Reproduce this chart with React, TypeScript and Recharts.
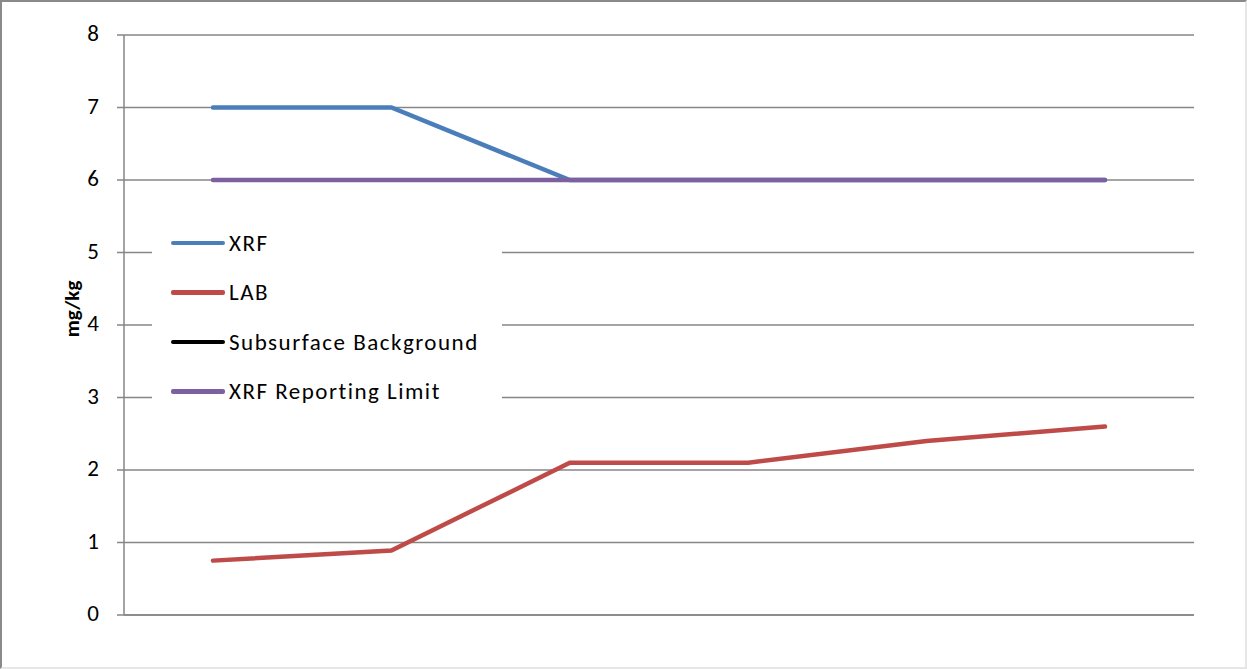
import React from "react";
import {
  LineChart,
  Line,
  XAxis,
  YAxis,
  CartesianGrid,
} from "recharts";

// six sample locations, no labels shown on the category axis
const samples = ["1", "2", "3", "4", "5", "6"];
const xrf = [7, 7, 6, 6, 6, 6];
const lab = [0.75, 0.89, 2.1, 2.1, 2.4, 2.6];
const subsurfaceBackground: (number | null)[] = [null, null, null, null, null, null];
const reportingLimit = [6, 6, 6, 6, 6, 6];
const yTicks = [0, 1, 2, 3, 4, 5, 6, 7, 8];

const series = [
  { key: "xrf", name: "XRF", color: "#4A7EBB" },
  { key: "lab", name: "LAB", color: "#BE4B48" },
  { key: "bg", name: "Subsurface Background", color: "#000000" },
  { key: "rl", name: "XRF Reporting Limit", color: "#7D60A0" },
];

const data = samples.map((s, i) => ({
  sample: s,
  xrf: xrf[i],
  lab: lab[i],
  bg: subsurfaceBackground[i],
  rl: reportingLimit[i],
}));

const FONT = "Carlito, Lato, 'Open Sans', sans-serif";

// legend sits inside the plot area, on a white box over the gridlines
const LegendBox = () => (
  <div
    style={{
      position: "absolute",
      left: 152,
      top: 214,
      background: "#fff",
      width: 350,
      padding: "4px 0",
      fontFamily: FONT,
      fontSize: 23,
      letterSpacing: 1.5,
      color: "#000",
    }}
  >
    {series.map((s) => (
      <div
        key={s.key}
        style={{ display: "flex", alignItems: "center", height: 49.5 }}
      >
        <span
          style={{
            display: "inline-block",
            width: 54,
            height: 4.5,
            borderRadius: 2,
            background: s.color,
            marginLeft: 19,
            marginRight: 4,
          }}
        />
        <span>{s.name}</span>
      </div>
    ))}
  </div>
);

const AxisTitle = (props: any) => {
  const vb = props.viewBox;
  const cx = vb.x + 72;
  const cy = vb.y + vb.height / 2 - 16;
  return (
    <text
      x={cx}
      y={cy}
      transform={`rotate(-90, ${cx}, ${cy})`}
      textAnchor="middle"
      dominantBaseline="central"
      fontFamily={FONT}
      fontWeight="bold"
      fontSize={21}
      fill="#000"
    >
      mg/kg
    </text>
  );
};

export default function App() {
  return (
    <div
      style={{
        position: "absolute",
        left: 0,
        top: 0,
        width: 1247,
        height: 669,
        background: "#fff",
      }}
    >
      <LineChart
        width={1247}
        height={669}
        data={data}
        margin={{ top: 35, right: 53, bottom: 0, left: 0 }}
      >
        <CartesianGrid vertical={false} stroke="#868686" strokeWidth={1.5} />
        <XAxis
          dataKey="sample"
          height={54}
          padding={{ left: 89, right: 89 }}
          tick={false}
          tickLine={false}
          axisLine={{ stroke: "#868686", strokeWidth: 1.5 }}
        />
        <YAxis
          width={124}
          domain={[0, 8]}
          ticks={yTicks}
          interval={0}
          tickSize={7}
          tickMargin={18}
          axisLine={{ stroke: "#868686", strokeWidth: 1.5 }}
          tickLine={{ stroke: "#868686", strokeWidth: 1.5 }}
          tick={{ fill: "#000", fontFamily: FONT, fontSize: 23, dy: -2 }}
          label={<AxisTitle />}
        />
        {series.map((s) => (
          <Line
            key={s.key}
            type="linear"
            dataKey={s.key}
            name={s.name}
            stroke={s.color}
            strokeWidth={4.5}
            strokeLinecap="round"
            dot={false}
            activeDot={false}
            isAnimationActive={false}
          />
        ))}
      </LineChart>
      <LegendBox />
      <div
        style={{
          position: "absolute",
          left: 0,
          top: 0,
          width: 1247,
          height: 669,
          boxSizing: "border-box",
          borderLeft: "2px solid #8a8a8a",
          borderTop: "2px solid #8a8a8a",
          borderRight: "2px solid #e6e6e6",
          borderBottom: "2px solid #e6e6e6",
          pointerEvents: "none",
        }}
      />
    </div>
  );
}
